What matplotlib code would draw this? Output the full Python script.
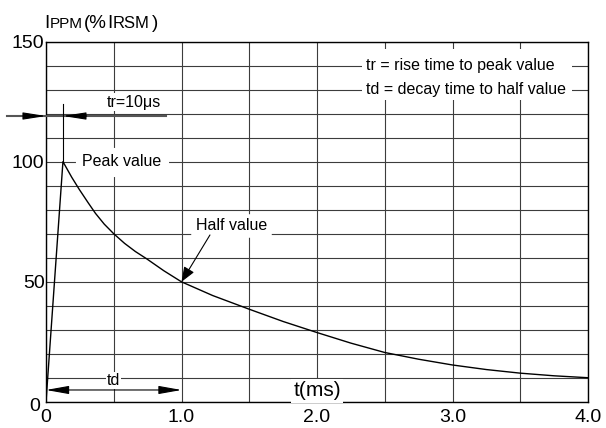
import numpy as np
import matplotlib.pyplot as plt
import matplotlib.transforms as mtransforms
from matplotlib.patches import Rectangle

plt.rcParams['font.family'] = ['Liberation Sans', 'DejaVu Sans']

# waveform (t in ms, current in % of IRSM)
t_ms = [0, 0.125, 0.19, 0.245, 0.31, 0.365, 0.43, 0.5, 0.58, 0.66, 0.745, 0.87, 1.0,
        1.23, 1.5, 1.75, 2.0, 2.25, 2.5, 2.75, 3.0, 3.25, 3.5, 3.75, 4.0]
ippm = [0, 100, 93.5, 88.5, 83, 78.5, 74, 70, 66, 62.6, 59.5, 54.6, 50,
        44.3, 38.6, 33.5, 28.9, 24.5, 20.6, 17.8, 15.4, 13.5, 12.0, 10.9, 10.1]

x_ticks = np.arange(0, 4.01, 0.5)
x_labels = ['0', '', '1.0', '', '2.0', '', '3.0', '', '4.0']
y_ticks = np.arange(0, 151, 10)
y_labels = [str(v) if v % 50 == 0 else '' for v in y_ticks]

tr_ms = 0.125
td_ms = 1.0
half_value = 50

W, H = 606, 428
fig = plt.figure(figsize=(W / 100, H / 100), dpi=100)
ax = fig.add_axes([46 / W, 1 - 402 / H, 542 / W, 360.5 / H])

ax.set_xlim(0, 4)
ax.set_ylim(0, 150)
ax.set_xticks(x_ticks)
ax.set_xticklabels(x_labels)
ax.set_yticks(y_ticks)
ax.set_yticklabels(y_labels)
ax.tick_params(length=0, labelsize=14)
ax.tick_params(axis='x', pad=5)
ax.tick_params(axis='y', pad=1)
ax.grid(True, color='#3c3c3c', lw=0.8)
for s in ax.spines.values():
    s.set_linewidth(1.0)
    s.set_color('black')

# nudge the y "0" left/down so it clears the x "0"
zero_lbl = ax.get_yticklabels()[0]
zero_lbl.set_transform(zero_lbl.get_transform() +
                       mtransforms.ScaledTranslation(-3 / 72, -2 / 72, fig.dpi_scale_trans))

# the waveform
ax.plot(t_ms, ippm, color='black', lw=1.0, zorder=6)

# tr marker
ax.plot([-0.29, 0.885], [119, 119], color='#555555', lw=1.5, clip_on=False, zorder=4)
ax.plot([tr_ms, tr_ms], [100, 124], color='black', lw=0.8, zorder=4)
head = dict(arrowstyle='-|>,head_length=1.4,head_width=0.22', color='black', lw=0.8,
            shrinkA=0, shrinkB=0)
ax.annotate('', xy=(0, 119), xytext=(-0.16, 119), arrowprops=head,
            annotation_clip=False, zorder=5)
ax.annotate('', xy=(tr_ms, 119), xytext=(0.3, 119), arrowprops=head, zorder=5)
ax.text(0.65, 124.8, 'tr=10μs', ha='center', va='center', fontsize=11.5,
        bbox=dict(boxstyle='square,pad=0.1', fc='white', ec='none'), zorder=3)

# peak label
ax.text(0.56, 100, 'Peak value', ha='center', va='center', fontsize=11.5,
        bbox=dict(boxstyle='square,pad=0.1', fc='white', ec='white', lw=8), zorder=3)

# half value label with arrow
ax.text(1.37, 73.3, 'Half value', ha='center', va='center', fontsize=11.5,
        bbox=dict(boxstyle='square,pad=0.1', fc='white', ec='white', lw=4), zorder=3)
ax.annotate('', xy=(td_ms, half_value), xytext=(1.21, 69.5),
            arrowprops=dict(arrowstyle='-|>,head_length=0.9,head_width=0.35',
                            color='black', lw=0.8, shrinkA=0, shrinkB=0), zorder=5)

# td marker
ax.annotate('', xy=(0, 5), xytext=(td_ms, 5),
            arrowprops=dict(arrowstyle='<|-|>,head_length=1.4,head_width=0.25',
                            color='black', lw=0.8, shrinkA=0, shrinkB=0), zorder=5)
ax.text(0.5, 9, 'td', ha='center', va='center', fontsize=11.5,
        bbox=dict(boxstyle='square,pad=0.05', fc='white', ec='none'), zorder=3)

ax.text(2.0, 4.6, 't(ms)', ha='center', va='center', fontsize=15,
        bbox=dict(boxstyle='square,pad=0.12', fc='white', ec='none'), zorder=3)

# definitions box
ax.add_patch(Rectangle((2.33, 125.5), 1.55, 21.5, fc='white', ec='none', zorder=2.5))
ax.text(2.365, 140, 'tr = rise time to peak value', ha='left', va='center', fontsize=11.5, zorder=3)
ax.text(2.365, 130, 'td = decay time to half value', ha='left', va='center', fontsize=11.5, zorder=3)

# y axis title: I PPM (% I RSM)
parts = [('I', 44.3, 13.5), ('PPM', 49.3, 11), ('(%', 84, 13.5), ('I', 107.3, 13.5),
         ('RSM', 112.3, 12), (')', 151.5, 13.5)]
for txt, px, fs in parts:
    fig.text(px / W, 1 - 28.3 / H, txt, ha='left', va='baseline', fontsize=fs)

fig.savefig('out.png', dpi=100)
